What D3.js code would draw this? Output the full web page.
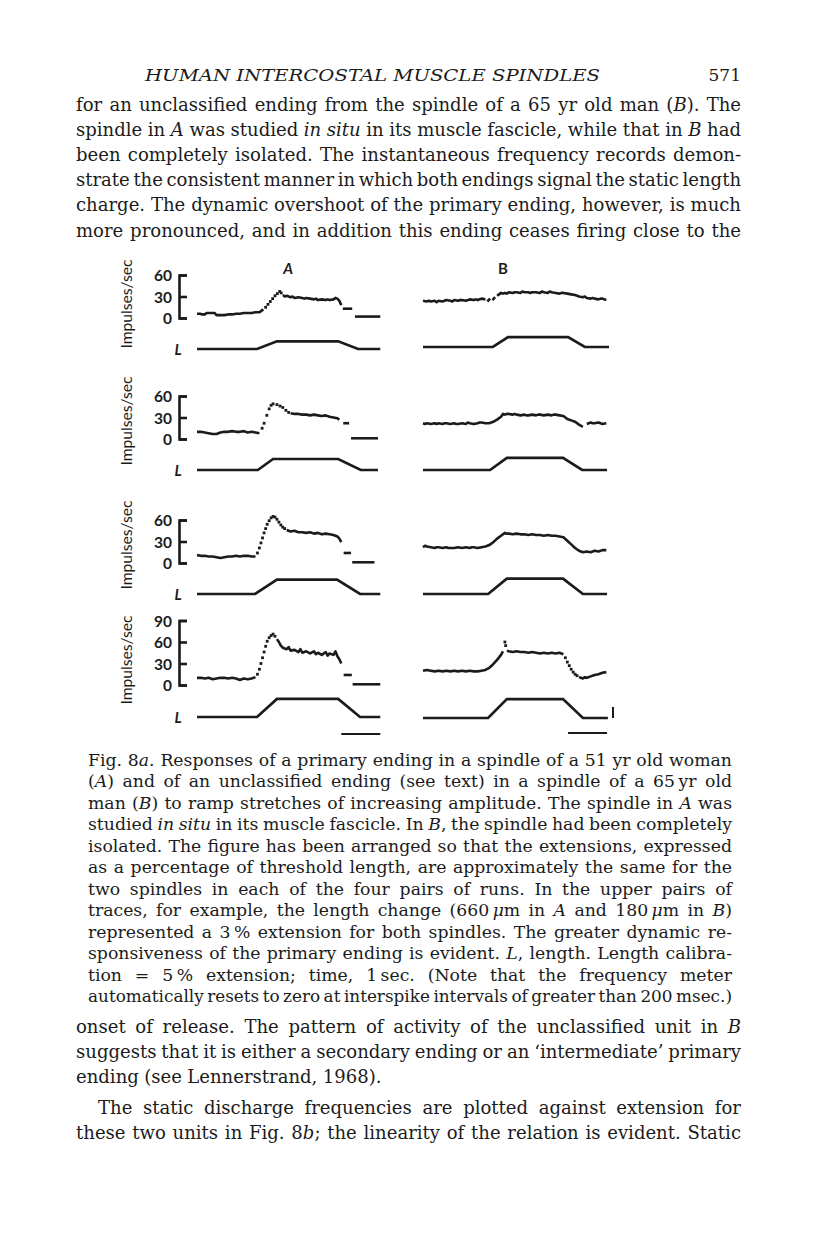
<!DOCTYPE html>
<html><head><meta charset="utf-8">
<script src="https://cdn.jsdelivr.net/npm/d3@7"></script>
<style>body{margin:0;background:#fff}</style>
</head><body>
<svg id="page" width="816" height="1233"></svg>
<script>
// ---------------- DATA ----------------
// tick labels (impulses/sec) for the four rows
const rowTicks = [[0,30,60],[0,30,60],[0,30,60],[0,30,60,90]];
const unitLabel = "Impulses/sec";
const columnLabels = ["A","B"];
const lengthLabel = "L";
const timeBarSec = 1;      // time calibration, 1 sec
const lengthCalPct = 5;    // length calibration, 5 % extension

// Instantaneous frequency (t in s, value in impulses/sec); column A (primary ending)
const freqA1 = {segs:[
 [[0,6],[0.08,6],[0.12,5],[0.2,5],[0.25,7],[0.35,7],[0.45,7],[0.5,4],[0.6,4],[0.7,4],[0.8,5],[0.9,5],[1.0,6],[1.1,6],[1.2,7],[1.3,7],[1.4,7],[1.5,8],[1.6,8],[1.65,10],[1.7,12]],
 [[2.2,32],[2.25,30],[2.3,31],[2.4,29],[2.45,30],[2.5,28],[2.6,29],[2.7,28],[2.75,27],[2.8,28],[2.9,27],[3.0,26],[3.05,27],[3.1,25],[3.2,26],[3.3,25],[3.35,26],[3.4,25],[3.5,26],[3.55,28],[3.6,27],[3.65,24],[3.7,18]],
 [[3.74,13],[3.8,13],[3.9,13],[3.98,13]],
 [[4.05,2],[4.7,2]]],
 dots:[[1.76,15],[1.82,19],[1.88,23],[1.94,27],[2.0,31],[2.06,34],[2.12,37],[2.16,35]]};
const freqA2 = {segs:[
 [[0,10],[0.1,10],[0.2,9],[0.3,8],[0.4,7],[0.5,7],[0.6,9],[0.7,10],[0.8,10],[0.9,11],[1.0,10],[1.1,10],[1.2,11],[1.3,9],[1.4,10],[1.5,9],[1.6,8]],
 [[2.4,36],[2.5,35],[2.6,35],[2.7,34],[2.8,34],[2.9,33],[3.0,34],[3.1,33],[3.2,32],[3.3,33],[3.4,31],[3.5,30],[3.6,29],[3.65,27]],
 [[3.75,22],[3.9,22]],
 [[3.95,1],[4.64,1]]],
 dots:[[1.67,15],[1.72,22],[1.79,33],[1.85,42],[1.9,47],[1.95,49],[2.05,48],[2.13,46],[2.2,44],[2.28,40],[2.35,37]]};
const freqA3 = {segs:[
 [[0,11],[0.1,10],[0.2,10],[0.3,9],[0.4,9],[0.5,8],[0.6,7],[0.7,8],[0.8,9],[0.9,9],[1.0,10],[1.1,9],[1.2,10],[1.3,10],[1.4,9],[1.5,9]],
 [[2.3,46],[2.4,44],[2.5,45],[2.6,43],[2.7,43],[2.8,42],[2.9,43],[3.0,41],[3.1,42],[3.2,40],[3.3,41],[3.4,40],[3.5,39],[3.6,37],[3.65,34],[3.7,29]],
 [[3.76,14],[3.95,14]],
 [[3.98,1],[4.55,1]]],
 dots:[[1.55,14],[1.6,21],[1.64,28],[1.68,35],[1.72,42],[1.76,48],[1.8,54],[1.85,59],[1.9,63],[1.95,65],[2.0,64],[2.05,61],[2.1,57],[2.15,53],[2.2,50],[2.25,48]]};
const freqA4 = {segs:[
 [[0,10],[0.1,10],[0.2,9],[0.3,10],[0.4,8],[0.5,9],[0.6,10],[0.7,10],[0.8,9],[0.9,10],[1.0,9],[1.1,7],[1.2,9],[1.3,8],[1.4,9],[1.5,11]],
 [[2.05,64],[2.1,60],[2.15,55],[2.2,52],[2.3,50],[2.35,53],[2.4,48],[2.5,49],[2.6,46],[2.65,50],[2.7,45],[2.8,47],[2.9,44],[3.0,47],[3.05,43],[3.1,45],[3.2,42],[3.3,46],[3.35,41],[3.4,44],[3.5,42],[3.55,47],[3.6,40],[3.65,36],[3.7,30]],
 [[3.76,14],[3.97,14]],
 [[3.99,1],[4.7,1]]],
 dots:[[1.55,15],[1.6,22],[1.64,30],[1.68,38],[1.72,46],[1.76,54],[1.8,61],[1.85,66],[1.9,69],[1.95,71],[2.0,68]]};

// column B (unclassified ending)
const freqB1 = {segs:[
 [[0,24],[0.1,23],[0.15,24],[0.2,23],[0.3,24],[0.35,22],[0.4,24],[0.5,23],[0.55,24],[0.6,25],[0.7,24],[0.75,23],[0.8,25],[0.9,24],[0.95,25],[1.0,25],[1.1,24],[1.2,26],[1.3,25],[1.35,26],[1.4,25],[1.5,27],[1.6,26]],
 [[1.65,23],[1.72,27]],
 [[1.78,25],[1.85,29]],
 [[1.9,31],[1.95,33],[2.0,35],[2.05,34],[2.1,35],[2.15,34],[2.2,36],[2.3,35],[2.35,36],[2.4,36],[2.5,35],[2.55,37],[2.6,36],[2.7,36],[2.75,35],[2.8,36],[2.9,36],[3.0,35],[3.05,37],[3.1,36],[3.2,35],[3.25,37],[3.3,36],[3.4,35],[3.5,34],[3.55,35],[3.6,35],[3.7,34],[3.8,33],[3.9,32],[4.0,30],[4.1,29],[4.15,30],[4.2,28],[4.3,27],[4.35,28],[4.4,27],[4.5,26],[4.55,27],[4.6,27],[4.7,25]]],
 dots:[]};
const freqB2 = {segs:[
 [[0,22],[0.05,21],[0.1,22],[0.2,21],[0.3,22],[0.35,21],[0.4,22],[0.5,21],[0.55,22],[0.6,22],[0.7,21],[0.8,22],[0.85,21],[0.9,21],[1.0,22],[1.1,21],[1.15,23],[1.2,22],[1.3,21],[1.4,22],[1.45,23],[1.5,23],[1.6,22],[1.7,22],[1.8,24],[1.9,27],[2.0,31],[2.05,35],[2.1,34],[2.15,35],[2.2,35],[2.3,34],[2.35,35],[2.4,34],[2.5,33],[2.6,34],[2.65,33],[2.7,33],[2.8,34],[2.9,33],[2.95,34],[3.0,34],[3.1,33],[3.2,34],[3.3,33],[3.35,34],[3.4,34],[3.5,33],[3.6,32],[3.7,28],[3.8,26],[3.9,24],[4.0,20],[4.1,17]],
 [[4.2,21],[4.3,23],[4.35,22],[4.4,22],[4.5,23],[4.55,22],[4.6,21],[4.7,22]]],
 dots:[]};
const freqB3 = {segs:[
 [[0,22],[0.05,24],[0.1,23],[0.2,22],[0.3,21],[0.35,22],[0.4,22],[0.5,21],[0.6,22],[0.65,21],[0.7,21],[0.8,21],[0.9,22],[1.0,21],[1.1,22],[1.2,21],[1.25,22],[1.3,22],[1.4,21],[1.5,22],[1.6,23],[1.7,25],[1.8,29],[1.9,34],[2.0,38],[2.1,42],[2.15,41],[2.2,41],[2.3,40],[2.4,41],[2.5,40],[2.6,40],[2.7,39],[2.8,40],[2.9,39],[3.0,39],[3.1,38],[3.2,39],[3.3,38],[3.4,38],[3.5,37],[3.6,36],[3.7,31],[3.8,26],[3.9,21],[4.0,17],[4.1,15],[4.2,16],[4.3,15],[4.4,17],[4.5,16],[4.6,18],[4.7,18]]],
 dots:[]};
const freqB4 = {segs:[
 [[0,20],[0.1,21],[0.2,20],[0.3,19],[0.4,20],[0.5,19],[0.6,20],[0.7,19],[0.8,20],[0.9,19],[1.0,20],[1.1,19],[1.2,20],[1.3,19],[1.4,19],[1.5,20],[1.6,21],[1.7,24],[1.8,29],[1.9,35],[2.0,42],[2.05,47]],
 [[2.15,48],[2.2,47],[2.3,46],[2.4,47],[2.5,46],[2.6,46],[2.7,45],[2.8,46],[2.9,45],[3.0,44],[3.1,45],[3.2,44],[3.3,45],[3.4,44],[3.5,45],[3.6,43]],
 [[4.0,11],[4.05,10],[4.1,9],[4.15,11],[4.2,10],[4.3,12],[4.4,14],[4.5,15],[4.6,17],[4.7,18]]],
 dots:[[2.1,60],[2.12,55],[3.65,38],[3.7,32],[3.75,27],[3.8,22],[3.85,18],[3.9,15],[3.95,13]]};

// Length (% extension) ramp records
const lenA1 = [[0,0],[1.54,0],[2.05,3.5],[3.62,3.5],[4.13,0],[4.7,0]];
const lenA2 = [[0,0],[1.56,0],[1.95,5],[3.62,5],[4.2,0],[4.64,0]];
const lenA3 = [[0,0],[1.49,0],[2.05,6.5],[3.59,6.5],[4.18,0],[4.7,0]];
const lenA4 = [[0,0],[1.54,0],[2.05,8.2],[3.62,8.2],[4.18,0],[4.7,0]];
const lenB1 = [[0,0],[1.79,0],[2.18,4.5],[3.72,4.5],[4.15,0],[4.77,0]];
const lenB2 = [[0,0],[1.72,0],[2.15,5.5],[3.59,5.5],[4.08,0],[4.72,0]];
const lenB3 = [[0,0],[1.67,0],[2.15,7],[3.59,7],[4.1,0],[4.72,0]];
const lenB4 = [[0,0],[1.67,0],[2.15,8.6],[3.59,8.6],[4.1,0],[4.74,0]];

// ---------------- TEXT ----------------
const headerTitle = "HUMAN INTERCOSTAL MUSCLE SPINDLES";
const pageNumber = "571";
const topLines = [
 "for an unclassified ending from the spindle of a 65 yr old man (_B_). The",
 "spindle in _A_ was studied _in situ_ in its muscle fascicle, while that in _B_ had",
 "been completely isolated. The instantaneous frequency records demon-",
 "strate the consistent manner in which both endings signal the static length",
 "charge. The dynamic overshoot of the primary ending, however, is much",
 "more pronounced, and in addition this ending ceases firing close to the"
];
const captionLines = [
 "Fig. 8_a_. Responses of a primary ending in a spindle of a 51 yr old woman",
 "(_A_) and of an unclassified ending (see text) in a spindle of a 65\u2009yr old",
 "man (_B_) to ramp stretches of increasing amplitude. The spindle in _A_ was",
 "studied _in situ_ in its muscle fascicle. In _B_, the spindle had been completely",
 "isolated. The figure has been arranged so that the extensions, expressed",
 "as a percentage of threshold length, are approximately the same for the",
 "two spindles in each of the four pairs of runs. In the upper pairs of",
 "traces, for example, the length change (660\u2009_\u03bc_m in _A_ and 180\u2009_\u03bc_m in _B_)",
 "represented a 3\u2009% extension for both spindles. The greater dynamic re-",
 "sponsiveness of the primary ending is evident. _L_, length. Length calibra-",
 "tion = 5\u2009% extension; time, 1\u2009sec. (Note that the frequency meter",
 "automatically resets to zero at interspike intervals of greater than 200 msec.)"
];
const bottomLines = [
 "onset of release. The pattern of activity of the unclassified unit in _B_",
 "suggests that it is either a secondary ending or an \u2018intermediate\u2019 primary",
 "ending (see Lennerstrand, 1968).",
 "The static discharge frequencies are plotted against extension for",
 "these two units in Fig. 8_b_; the linearity of the relation is evident. Static"
];

// ---------------- LAYOUT ----------------
const ink = "#1b1b1b";
const serif = "'DejaVu Serif','Liberation Serif',serif";
const sans = "Lato,'Open Sans','DejaVu Sans',sans-serif";
const svg = d3.select("#page");

function naturalWidth(str, size) {
  const t = svg.append("text").attr("font-size", size).attr("font-family", serif)
    .text(str.replace(/_/g, ""));
  const w = t.node().getComputedTextLength();
  t.remove();
  return w;
}
function fitSize(lines, width, size0) {
  const ratios = lines.map(l => width / naturalWidth(l, size0));
  return size0 * d3.median(ratios) * 0.985;
}

function justifyLine(g, str, x0, width, baseline, size, justify) {
  const words = str.split(" ");
  let italic = false;
  const nodes = words.map(w => {
    const t = g.append("text").attr("y", baseline).attr("font-size", size)
      .attr("font-family", serif).attr("fill", ink);
    const parts = w.split("_");
    parts.forEach((p, i) => {
      if (i > 0) italic = !italic;
      if (p) t.append("tspan").attr("font-style", italic ? "italic" : "normal").text(p);
    });
    return t;
  });
  const widths = nodes.map(n => n.node().getComputedTextLength());
  const sum = d3.sum(widths);
  const n = words.length;
  let gap = size * 0.3;
  let k = 1;
  if (justify && n > 1) {
    gap = (width - sum) / (n - 1);
    const minGap = size * 0.2;
    if (gap < minGap) {
      gap = minGap;
      k = (width - minGap * (n - 1)) / sum;
    }
  }
  let x = x0;
  nodes.forEach((nd, i) => {
    nd.attr("x", x);
    if (k !== 1) nd.attr("textLength", widths[i] * k).attr("lengthAdjust", "spacingAndGlyphs");
    x += widths[i] * k + gap;
  });
}

// header
svg.append("text").attr("x", 145).attr("y", 81).attr("font-family", serif)
  .attr("font-style", "italic").attr("font-size", 17).attr("fill", ink)
  .attr("textLength", 455).attr("lengthAdjust", "spacingAndGlyphs").text(headerTitle);
svg.append("text").attr("x", 741).attr("y", 81).attr("text-anchor", "end").attr("font-family", serif)
  .attr("font-size", 17).attr("fill", ink).text(pageNumber);

const gText = svg.append("g");
const bodySize = fitSize(topLines.concat(bottomLines.filter((d, i) => i !== 2 && i !== 3)), 665, 18);
const capSize = fitSize(captionLines, 644, 16);
topLines.forEach((l, i) => justifyLine(gText, l, 76, 665, 111 + i * 25.1, bodySize, true));
captionLines.forEach((l, i) => justifyLine(gText, l, 88, 644, 766 + i * 21.45, capSize, true));
bottomLines.forEach((l, i) => {
  const y = i < 3 ? 1033 + i * 25 : 1114 + (i - 3) * 25;
  const x0 = i === 3 ? 98 : 76;
  justifyLine(gText, l, x0, 741 - x0, y, bodySize, i !== 2);
});

// ---------------- FIGURE ----------------
const freqA = [freqA1, freqA2, freqA3, freqA4];
const freqB = [freqB1, freqB2, freqB3, freqB4];
const lenA = [lenA1, lenA2, lenA3, lenA4];
const lenB = [lenB1, lenB2, lenB3, lenB4];

const xA = d3.scaleLinear([0, 4.7], [197, 380.3]);
const xB = d3.scaleLinear([0, 4.7], [423, 606.3]);
const zeroY = [318, 439, 563, 685];
const pxPer60 = 43;
const lenBaseA = [349, 470, 594, 717];
const lenBaseB = [347, 470, 594, 718];
const pxPerPct = 2.2;
const axisX = 179;
const labelCY = [304, 421, 545, 660];

const fig = svg.append("g");

function drawFreq(g, x, y, tr) {
  const line = d3.line().x(d => x(d[0])).y(d => y(d[1]));
  g.selectAll(null).data(tr.segs).join("path").attr("d", line)
    .attr("fill", "none").attr("stroke", ink).attr("stroke-width", 2.6)
    .attr("stroke-linejoin", "round").attr("stroke-linecap", "butt");
  g.selectAll(null).data(tr.dots).join("rect")
    .attr("x", d => x(d[0]) - 1.4).attr("y", d => y(d[1]) - 1.4)
    .attr("width", 2.8).attr("height", 2.8).attr("fill", ink);
}
function drawLen(g, x, y, d) {
  g.append("path").attr("d", d3.line().x(p => x(p[0])).y(p => y(p[1]))(d))
    .attr("fill", "none").attr("stroke", ink).attr("stroke-width", 2.7).attr("stroke-linejoin", "miter");
}

for (let r = 0; r < 4; r++) {
  const top = d3.max(rowTicks[r]);
  const y = d3.scaleLinear([0, top], [zeroY[r], zeroY[r] - pxPer60 * top / 60]);
  const yLA = d3.scaleLinear([0, 1], [lenBaseA[r], lenBaseA[r] - pxPerPct]);
  const yLB = d3.scaleLinear([0, 1], [lenBaseB[r], lenBaseB[r] - pxPerPct]);
  const g = fig.append("g");

  // y axis bracket
  const ax = d3.axisLeft(y).tickValues(rowTicks[r]).tickSize(-8).tickPadding(7).tickFormat(d3.format("d"));
  const ga = g.append("g").attr("transform", `translate(${axisX},0)`).call(ax);
  ga.select(".domain").attr("stroke", ink).attr("stroke-width", 2.6);
  ga.selectAll(".tick line").attr("stroke", ink).attr("stroke-width", 2.6);
  ga.selectAll(".tick text").attr("fill", ink).attr("font-family", sans).attr("font-size", 15.5)
    .attr("font-weight", 700).attr("dy", "0.36em");
  ga.attr("font-family", null).attr("font-size", null);

  // unit label
  g.append("text").attr("transform", `translate(132,${labelCY[r]}) rotate(-90)`)
    .attr("text-anchor", "middle").attr("font-family", sans).attr("font-size", 16)
    .attr("fill", ink).attr("textLength", 89).attr("lengthAdjust", "spacingAndGlyphs").text(unitLabel);

  // L label
  g.append("text").attr("x", 178).attr("y", lenBaseA[r] + 5.5).attr("text-anchor", "middle")
    .attr("font-family", sans).attr("font-style", "italic").attr("font-weight", 700)
    .attr("font-size", 15).attr("fill", ink).text(lengthLabel);

  drawFreq(g, xA, y, freqA[r]);
  drawFreq(g, xB, y, freqB[r]);
  drawLen(g, xA, yLA, lenA[r]);
  drawLen(g, xB, yLB, lenB[r]);

  if (r === 3) {
    // time bars (1 sec)
    const endA = xA.domain()[1], endB = 4.72;
    g.append("line").attr("x1", xA(endA - timeBarSec)).attr("x2", xA(endA))
      .attr("y1", 734).attr("y2", 734).attr("stroke", ink).attr("stroke-width", 2);
    g.append("line").attr("x1", xB(endB - timeBarSec)).attr("x2", xB(endB))
      .attr("y1", 733).attr("y2", 733).attr("stroke", ink).attr("stroke-width", 2);
    // length calibration (5 %)
    g.append("line").attr("x1", 613).attr("x2", 613)
      .attr("y1", yLB(0)).attr("y2", yLB(lengthCalPct)).attr("stroke", ink).attr("stroke-width", 2);
  }
}

// column labels
fig.append("text").attr("x", 288).attr("y", 274).attr("text-anchor", "middle").attr("font-family", sans)
  .attr("font-style", "italic").attr("font-weight", 700).attr("font-size", 15).attr("fill", ink).text(columnLabels[0]);
fig.append("text").attr("x", 503).attr("y", 274).attr("text-anchor", "middle").attr("font-family", sans)
  .attr("font-weight", 700).attr("font-size", 15).attr("fill", ink).text(columnLabels[1]);
</script>
</body></html>
